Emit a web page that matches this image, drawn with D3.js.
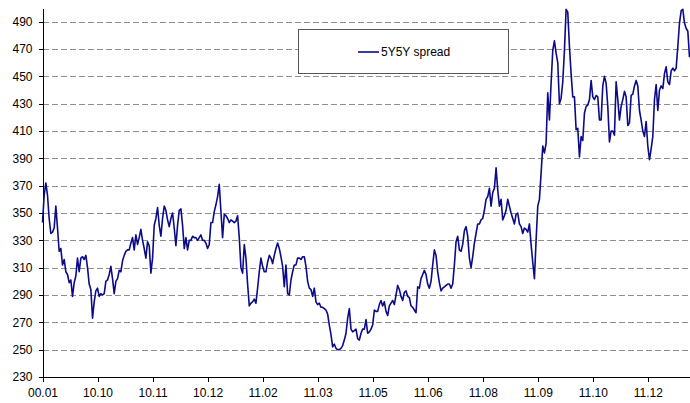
<!DOCTYPE html>
<html>
<head>
<meta charset="utf-8">
<script src="https://cdn.jsdelivr.net/npm/d3@7"></script>
<style>
body { margin: 0; background: #fff; }
svg text { font-family: "Liberation Sans", Arial, sans-serif; fill: #000; }
</style>
</head>
<body>
<div id="chart"></div>
<script>
var SERIES_NAME = "5Y5Y spread";
var TICK_EVERY = 33;

var xLabels = ["00.01", "10.10", "10.11", "10.12", "11.02", "11.03",
               "11.05", "11.06", "11.08", "11.09", "11.10", "11.12"];
var yTicks = [230, 250, 270, 290, 310, 330, 350, 370, 390, 410, 430, 450, 470, 490];

// daily values
var spread = [
	343, 363, 372, 363, 346, 335, 336, 339, 355, 339, 322, 324, 312, 316, 307, 305, 299, 301, 289, 299,
	304, 317, 307, 317, 318, 316, 319, 310, 298, 294, 273, 285, 293, 295, 289, 291, 290, 291, 300, 301,
	305, 311, 302, 291, 300, 302, 308, 307, 315, 319, 322, 323, 323, 328, 332, 323, 334, 327, 332, 338,
	330, 324, 317, 329, 326, 306, 317, 341,
	346, 354, 341, 333, 346, 355, 352, 345, 340, 346, 350, 339, 326, 341, 352, 353, 341, 324, 332, 323,
	330, 330, 333, 332, 332, 330, 332, 334, 330, 330, 328, 324, 327, 343, 343, 351, 356, 362, 371, 351,
	332, 349, 348, 346, 343, 345, 344, 343, 344, 348, 332, 310, 306, 327, 317, 298, 282, 284, 285, 287,
	284, 295, 307, 317, 311, 307,
	307, 314, 319, 317, 313, 319, 324, 328, 324, 318, 311, 296, 312, 291, 290, 301, 307, 312, 312, 317,
	317, 316, 318, 318, 311, 300, 295, 294, 289, 295, 285, 283, 284, 281, 281, 280, 279, 276, 268, 261,
	252, 254, 251, 250, 250, 251, 253, 257, 262, 273, 280, 265, 263, 264, 265, 258, 257, 262, 265, 265,
	272, 262, 263, 265, 268, 279,
	278, 278, 283, 286, 282, 285, 278, 275, 282, 284, 286, 283, 290, 297, 294, 289, 286, 292, 293, 289,
	288, 282, 281, 279, 277, 296, 295,
	302, 305, 308, 305, 298, 295, 300, 312, 323, 319, 307, 299, 293, 295, 296, 297, 298, 298, 295, 298,
	312, 329, 333, 323, 322, 327, 337, 340, 333, 317, 310, 318, 328, 335, 342, 342, 345, 346, 352,
	360, 362, 368, 355, 365, 368, 383, 367, 355, 360, 345, 348, 352, 360, 355, 350, 346, 342, 349, 350,
	342, 340, 335, 339, 338, 336, 342, 327, 314, 302, 330, 355, 360, 379, 399, 394, 401, 438, 418, 445,
	469, 476, 467, 460, 430, 434, 446, 469, 499, 497, 472, 452, 435, 435, 411, 412, 391, 406, 403, 423,
	428, 429, 433,
	447, 435, 433, 436, 435, 418, 418, 443, 450, 445, 428, 402, 410, 410, 407, 446, 433, 418, 428, 433,
	439, 435, 414, 416, 436, 437, 443, 447, 443, 425, 418, 410, 406, 417, 399, 389, 397, 406, 433, 444,
	425, 440, 443, 441, 452, 457, 446, 444, 454, 456, 454, 456, 472, 489, 498, 499, 489, 485, 483, 464
];

var width = 690, height = 403;

var svg = d3.select("#chart")
	.append("svg")
	.attr("width", width)
	.attr("height", height);

var x = d3.scaleLinear()
	.domain([0, spread.length - 1])
	.range([42.5, 689.5]);

var y = d3.scaleLinear()
	.domain([230, 500])
	.range([377, 8]);

/* dashed grid */
svg.append("g")
	.selectAll("line")
	.data(yTicks.filter(function(d){ return d > 230; }))
	.enter().append("line")
		.attr("x1", 43)
		.attr("x2", width)
		.attr("y1", function(d){ return Math.round(y(d)) + 0.5; })
		.attr("y2", function(d){ return Math.round(y(d)) + 0.5; })
		.attr("stroke", "#8f8f8f")
		.attr("stroke-width", 1)
		.attr("stroke-dasharray", "6,3")
		.attr("shape-rendering", "crispEdges");

/* y axis */
var yAxis = svg.append("g")
	.attr("transform", "translate(42.5,0)")
	.call(d3.axisLeft(y).tickValues(yTicks).tickSize(4).tickSizeOuter(0).tickPadding(6));
yAxis.selectAll("text").style("font-size", "12px");

/* x axis */
var xAxis = svg.append("g")
	.attr("transform", "translate(0,377.5)")
	.call(d3.axisBottom(x)
		.tickValues(d3.range(0, xLabels.length).map(function(i){ return i * TICK_EVERY; }))
		.tickFormat(function(d, i){ return xLabels[i]; })
		.tickSize(4).tickSizeOuter(0).tickPadding(7));
xAxis.select(".domain").attr("d", "M42.5,0H" + width);
xAxis.selectAll("text").style("font-size", "12px");

svg.selectAll(".domain, .tick line")
	.attr("stroke", "#000")
	.attr("shape-rendering", "crispEdges");

/* series */
var line = d3.line()
	.x(function(d, i){ return x(i); })
	.y(function(d){ return y(d); });

svg.append("path")
	.datum(spread)
	.attr("d", line)
	.attr("fill", "none")
	.attr("stroke", "#0b0b8a")
	.attr("stroke-width", 1.6)
	.attr("stroke-linejoin", "round");

/* legend */
var legend = svg.append("g");
legend.append("rect")
	.attr("x", 298.5).attr("y", 29.5)
	.attr("width", 210).attr("height", 44)
	.attr("fill", "#fff")
	.attr("stroke", "#555");
legend.append("line")
	.attr("x1", 358).attr("x2", 379)
	.attr("y1", 52).attr("y2", 52)
	.attr("stroke", "#0b0b8a")
	.attr("stroke-width", 1.6);
legend.append("text")
	.attr("x", 381).attr("y", 52)
	.attr("dy", "0.35em")
	.style("font-size", "12px")
	.text(SERIES_NAME);
</script>
</body>
</html>
